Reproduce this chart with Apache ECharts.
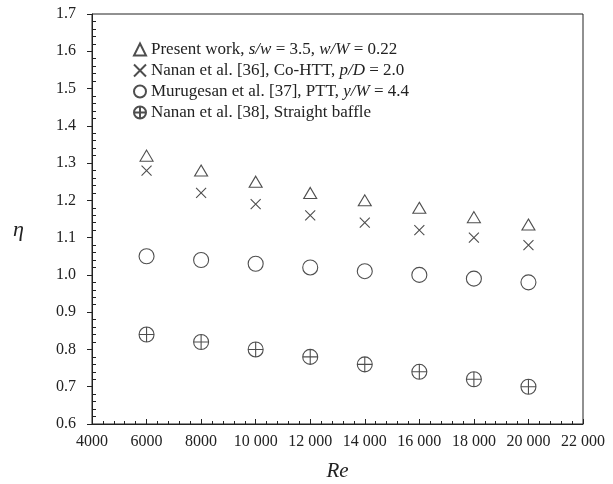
<!DOCTYPE html>
<html><head><meta charset="utf-8">
<script src="https://cdn.jsdelivr.net/npm/echarts@6/dist/echarts.min.js"></script>
<style>html,body{margin:0;padding:0;background:#fff}#c{width:613px;height:484px}</style>
</head><body><div id="c"></div>
<script>
const reValues = [6000, 8000, 10000, 12000, 14000, 16000, 18000, 20000];
const presentWork = [1.32, 1.28, 1.25, 1.22, 1.20, 1.18, 1.155, 1.135];
const nanan36 = [1.28, 1.22, 1.19, 1.16, 1.14, 1.12, 1.10, 1.08];
const murugesan37 = [1.05, 1.04, 1.03, 1.02, 1.01, 1.00, 0.99, 0.98];
const nanan38 = [0.84, 0.82, 0.80, 0.78, 0.76, 0.74, 0.72, 0.70];
const seriesNames = ['Present work', 'Nanan 36', 'Murugesan 37', 'Nanan 38'];
const legendTexts = [
  'Present work, {i|s/w} = 3.5, {i|w/W} = 0.22',
  'Nanan et al. [36], Co-HTT, {i|p/D} = 2.0',
  'Murugesan et al. [37], PTT, {i|y/W} = 4.4',
  'Nanan et al. [38], Straight baffle'
];

const FONT = '"Liberation Serif", "DejaVu Serif", serif';
const pair = a => reValues.map((x, i) => [x, a[i]]);
const crossPath = 'path://M0,0 L10,10 M10,0 L0,10';
const crossedCircle = 'path://M10,0 A10,10 0 1,1 10,20 A10,10 0 1,1 10,0 Z M0,10 L20,10 M10,0 L10,20';

function mk(name, data, symbol, size) {
  return {
    name, type: 'scatter', data: pair(data), symbol, symbolSize: size,
    itemStyle: { color: 'rgba(0,0,0,0)', borderColor: '#222', borderWidth: 1.1 },
    emphasis: { disabled: true }
  };
}

const chart = echarts.init(document.getElementById('c'), null, { renderer: 'canvas' });
chart.setOption({
  backgroundColor: '#fff',
  animation: false,
  textStyle: { fontFamily: FONT },
  grid: { left: 92, right: 30, top: 14, bottom: 60, show: true, borderColor: '#222', borderWidth: 1,
    containLabel: false, outerBoundsMode: 'none' },
  legend: {
    orient: 'vertical', left: 128, top: 36, itemWidth: 12, itemHeight: 12, itemGap: 4,
    data: seriesNames,
    formatter: n => legendTexts[seriesNames.indexOf(n)],
    textStyle: { fontFamily: FONT, fontSize: 17, color: '#222',
      rich: { i: { fontStyle: 'italic', fontFamily: FONT, fontSize: 17, color: '#222' } } }
  },
  xAxis: [{
    type: 'value', min: 4000, max: 22000, interval: 2000,
    name: 'Re', nameLocation: 'middle', nameGap: 37,
    nameTextStyle: { fontFamily: FONT, fontStyle: 'italic', fontSize: 21, color: '#222' },
    axisLine: { show: true, lineStyle: { color: '#222' } },
    axisTick: { show: true, inside: true, length: 5, lineStyle: { color: '#222' } },
    minorTick: { show: true, splitNumber: 5, length: 3, lineStyle: { color: '#222' } },
    splitLine: { show: false },
    axisLabel: { fontFamily: FONT, fontSize: 16, color: '#222', margin: 10,
      formatter: v => v >= 10000 ? String(v).replace(/(\d+)(\d{3})$/, '$1 $2') : String(v) }
  }],
  yAxis: [{
    type: 'value', min: 0.6, max: 1.7, interval: 0.1,
    name: 'η', nameLocation: 'middle', nameGap: 68, nameRotate: 0,
    nameTextStyle: { fontFamily: FONT, fontStyle: 'italic', fontSize: 22, color: '#222', verticalAlign: 'top' },
    axisLine: { show: true, lineStyle: { color: '#222' } },
    axisTick: { show: true, inside: false, length: 5, lineStyle: { color: '#222' } },
    splitLine: { show: false },
    axisLabel: { fontFamily: FONT, fontSize: 16, color: '#222', margin: 16,
      formatter: v => v.toFixed(1) }
  }, {
    type: 'value', min: 0.6, max: 1.7, interval: 0.1, position: 'left',
    axisLine: { show: false },
    axisTick: { show: false, inside: true },
    minorTick: { show: true, splitNumber: 5, length: 4, lineStyle: { color: '#222' } },
    splitLine: { show: false },
    axisLabel: { show: false }
  }],
  series: [
    mk(seriesNames[0], presentWork, 'triangle', [13, 11]),
    mk(seriesNames[1], nanan36, crossPath, 10),
    mk(seriesNames[2], murugesan37, 'circle', 15),
    mk(seriesNames[3], nanan38, crossedCircle, 15)
  ]
});
</script></body></html>
